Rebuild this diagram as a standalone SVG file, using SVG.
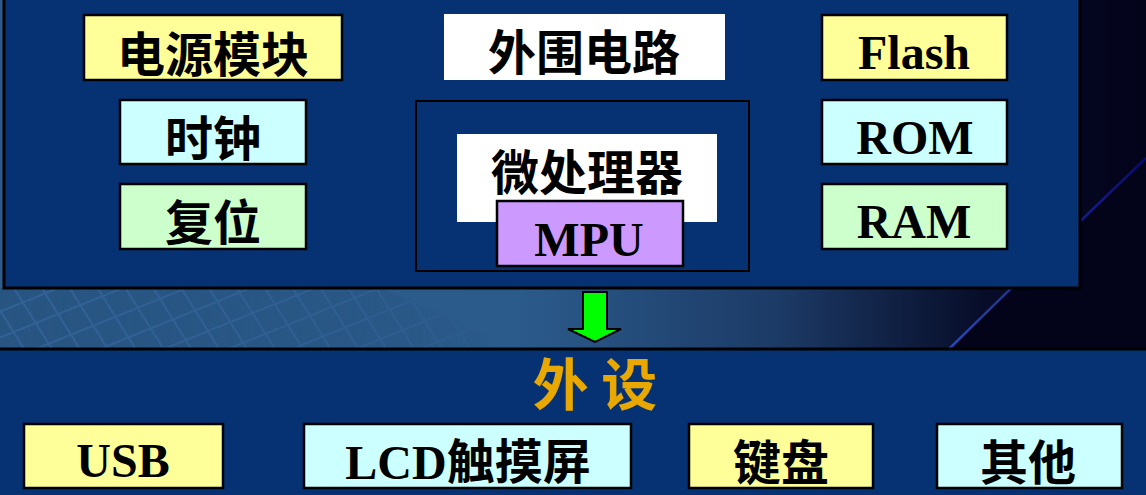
<svg xmlns="http://www.w3.org/2000/svg" width="1146" height="495" viewBox="0 0 1146 495">
  <defs>
    <linearGradient id="bandGrad" x1="0" y1="0" x2="1146" y2="0" gradientUnits="userSpaceOnUse">
      <stop offset="0" stop-color="#2c5c8c"/>
      <stop offset="0.45" stop-color="#2b5b8b"/>
      <stop offset="0.68" stop-color="#1c3a66"/>
      <stop offset="0.86" stop-color="#070c28"/>
      <stop offset="1" stop-color="#03031a"/>
    </linearGradient>
    <linearGradient id="edgeGrad" x1="948" y1="349" x2="1146" y2="160" gradientUnits="userSpaceOnUse">
      <stop offset="0" stop-color="#2a48b0"/>
      <stop offset="1" stop-color="#0a0a70"/>
    </linearGradient>
    <pattern id="grid" width="24" height="24" patternUnits="userSpaceOnUse" patternTransform="rotate(-22) skewX(10)">
      <rect width="24" height="24" fill="#27537f"/>
      <path d="M0 0H24M0 0V24" stroke="#33639a" stroke-width="4" fill="none"/>
    </pattern>
    <linearGradient id="gridFade" x1="0" y1="0" x2="1" y2="0">
      <stop offset="0" stop-color="#fff" stop-opacity="0.85"/>
      <stop offset="0.7" stop-color="#fff" stop-opacity="0.45"/>
      <stop offset="1" stop-color="#fff" stop-opacity="0"/>
    </linearGradient>
    <mask id="gridMask">
      <path d="M0 288 H380 L520 349 H0 Z" fill="url(#gridFade)"/>
    </mask>
    <style>
      .panel { fill: #063274; stroke: #000; stroke-width: 3; }
      .box { stroke: #000; stroke-width: 2.5; }
      .yellow { fill: #ffff99; }
      .cyan { fill: #ccffff; }
      .green { fill: #ccffcc; }
      .white { fill: #ffffff; }
      .purple { fill: #cc99ff; }
      .cjk { font-family: "Noto Sans CJK SC", "Noto Sans", sans-serif; font-weight: 700; font-size: 48px; fill: #000; text-anchor: middle; }
      .lat { font-family: "Liberation Serif", "Noto Sans CJK SC", serif; font-weight: 700; font-size: 48px; fill: #000; text-anchor: middle; }
      .title { font-family: "Noto Sans CJK SC", sans-serif; font-weight: 700; font-size: 56px; fill: #e8a800; text-anchor: middle; }
    </style>
  </defs>

  <!-- background -->
  <rect x="0" y="0" width="1146" height="495" fill="#03031a"/>
  <rect x="0" y="0" width="1146" height="350" fill="url(#bandGrad)"/>
  <rect x="0" y="280" width="600" height="70" fill="url(#grid)" mask="url(#gridMask)"/>
  <path d="M948 350 Q1050 250 1146 158 V350 Z" fill="#03031a"/>
  <path d="M948 350 Q1050 250 1146 158" fill="none" stroke="url(#edgeGrad)" stroke-width="2.5"/>

  <!-- top panel -->
  <g id="top-panel">
    <rect class="panel" x="4" y="-10" width="1076" height="298"/>
  </g>

  <!-- bottom panel -->
  <g id="bottom-panel">
    <rect class="panel" x="-5" y="349" width="1160" height="160"/>
  </g>

  <g id="power">
    <rect class="box yellow" x="84" y="15" width="258" height="65"/>
    <text class="cjk" x="213" y="72">电源模块</text>
  </g>
  <g id="clock">
    <rect class="box cyan" x="120" y="100" width="186" height="64"/>
    <text class="cjk" x="213" y="156">时钟</text>
  </g>
  <g id="reset">
    <rect class="box green" x="120" y="184" width="186" height="65"/>
    <text class="cjk" x="213" y="240">复位</text>
  </g>
  <g id="peripheral-circuit">
    <rect class="white" x="444" y="14" width="281" height="66"/>
    <text class="cjk" x="584" y="70">外围电路</text>
  </g>
  <g id="mpu-frame">
    <rect x="416" y="101" width="333" height="170" fill="none" stroke="#000" stroke-width="2"/>
  </g>
  <g id="microprocessor">
    <rect class="white" x="457" y="134" width="260" height="88"/>
    <text class="cjk" x="587" y="190">微处理器</text>
  </g>
  <g id="mpu">
    <rect class="box purple" x="497" y="201" width="186" height="65"/>
    <text class="lat" x="589" y="256">MPU</text>
  </g>
  <g id="flash">
    <rect class="box yellow" x="822" y="15" width="185" height="65"/>
    <text class="lat" x="914" y="69">Flash</text>
  </g>
  <g id="rom">
    <rect class="box cyan" x="822" y="100" width="185" height="64"/>
    <text class="lat" x="915" y="154">ROM</text>
  </g>
  <g id="ram">
    <rect class="box green" x="822" y="184" width="185" height="65"/>
    <text class="lat" x="914" y="238">RAM</text>
  </g>

  <g id="connectors">
    <path d="M583 292 H607 V329 H621 L595 342 L568 329 H583 Z" fill="#00ff00" stroke="#000" stroke-width="2" stroke-linejoin="miter"/>
  </g>

  <g id="peripherals-title">
    <text class="title" x="595" y="405">外 设</text>
  </g>

  <g id="usb">
    <rect class="box yellow" x="24" y="424" width="199" height="64"/>
    <text class="lat" x="123" y="477">USB</text>
  </g>
  <g id="lcd">
    <rect class="box cyan" x="304" y="424" width="327" height="64"/>
    <text class="lat" x="468" y="479">LCD<tspan font-family="Noto Sans CJK SC, sans-serif">触摸屏</tspan></text>
  </g>
  <g id="keyboard">
    <rect class="box yellow" x="689" y="424" width="184" height="64"/>
    <text class="cjk" x="781" y="480">键盘</text>
  </g>
  <g id="other">
    <rect class="box cyan" x="937" y="424" width="185" height="64"/>
    <text class="cjk" x="1028" y="480">其他</text>
  </g>
</svg>
